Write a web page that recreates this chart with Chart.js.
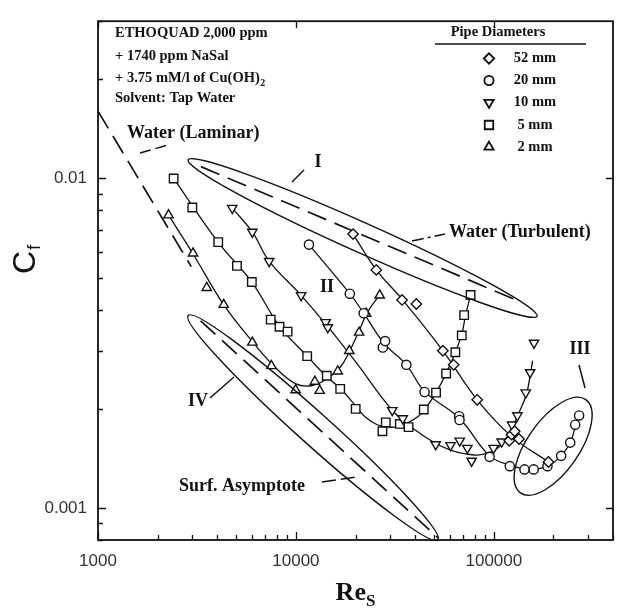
<!DOCTYPE html>
<html>
<head>
<meta charset="utf-8">
<script src="https://cdn.jsdelivr.net/npm/chart.js@4/dist/chart.umd.min.js"></script>
<style>
html,body{margin:0;padding:0;background:#fff;}
canvas{display:block;}
</style>
</head>
<body>
<canvas id="c" width="624" height="608"></canvas>
<script>
// ---------- data ----------
const seriesNames = ['52 mm', '20 mm', '10 mm', '5 mm', '2 mm'];

// 52 mm (diamonds)
const re52 = [19440, 25470, 34370, 40600, 55280, 62660, 82400, 119600, 122800, 127500, 134000, 188700];
const cf52 = [0.00678, 0.00528, 0.00428, 0.00416, 0.00300, 0.00272, 0.00213, 0.00160, 0.00167, 0.00171, 0.00162, 0.00138];
// 20 mm (circles)
const re20 = [11640, 18720, 22000, 27480, 28220, 36140, 44670, 66800, 67100, 95200, 120400, 142900, 159000, 186600, 218800, 243200, 257600, 269600];
const cf20 = [0.00630, 0.00447, 0.00390, 0.00307, 0.00321, 0.00272, 0.00225, 0.00190, 0.00185, 0.00143, 0.00134, 0.00131, 0.00131, 0.00134, 0.00144, 0.00158, 0.00179, 0.00191];
// 10 mm (down triangles)
const re10 = [4767, 6022, 7325, 10620, 14130, 14490, 30670, 34640, 50860, 60400, 67250, 73490, 77200, 99660, 109500, 123500, 131500, 144900, 152500, 159600];
const cf10 = [0.00813, 0.00688, 0.00561, 0.00442, 0.00366, 0.00353, 0.00198, 0.00187, 0.00156, 0.00155, 0.00160, 0.00152, 0.00139, 0.00152, 0.00159, 0.00179, 0.00191, 0.00224, 0.00258, 0.00317];
// 5 mm (squares)
const re5 = [2411, 2997, 4050, 5035, 5987, 7460, 8265, 9077, 11400, 14320, 16740, 20040, 27360, 28440, 33500, 37080, 44260, 51050, 57410, 63900, 68870, 70800, 76300];
const cf5 = [0.01000, 0.00816, 0.00641, 0.00543, 0.00485, 0.00373, 0.00355, 0.00343, 0.00289, 0.00252, 0.00230, 0.00200, 0.00171, 0.00182, 0.00180, 0.00176, 0.00199, 0.00224, 0.00256, 0.00297, 0.00334, 0.00385, 0.00443];
// 2 mm (up triangles)
const re2 = [2272, 3022, 3544, 4317, 6022, 7520, 9965, 12460, 13180, 16270, 18610, 20860, 22640, 26500];
const cf2 = [0.00774, 0.00593, 0.00466, 0.00414, 0.00318, 0.00270, 0.00228, 0.00242, 0.00227, 0.00260, 0.00300, 0.00341, 0.00389, 0.00442];

// drawn fit curves
const fit52Re = [19440, 25470, 34370, 55280, 82400, 122800, 188700];
const fit52Cf = [0.00678, 0.00528, 0.00430, 0.00300, 0.00213, 0.00165, 0.00138];
const fit20Re = [11640, 18720, 22000, 27900, 36140, 44670, 67100, 95200, 120400, 150000, 186600, 218800, 243200, 257600, 269600];
const fit20Cf = [0.00630, 0.00447, 0.00390, 0.00316, 0.00272, 0.00226, 0.00187, 0.00144, 0.00135, 0.00131, 0.00134, 0.00144, 0.00158, 0.00176, 0.00191];
const fit10Re = [4767, 6022, 7325, 10620, 14490, 20000, 30670, 39270, 50860, 60400, 72000, 84300, 101200, 113000, 122800, 131500, 145600, 152500, 157000];
const fit10Cf = [0.00813, 0.00688, 0.00561, 0.00442, 0.00355, 0.00278, 0.00198, 0.00174, 0.00157, 0.00150, 0.00146, 0.00145, 0.00150, 0.00160, 0.00173, 0.00190, 0.00220, 0.00252, 0.00280];
const fit5Re = [2411, 4050, 5987, 8265, 11400, 14320, 16740, 20040, 22200, 25760, 29500, 33100, 37080, 41570, 45000, 51050, 57410, 63900, 68870, 72000, 76300];
const fit5Cf = [0.01000, 0.00640, 0.00485, 0.00356, 0.00289, 0.00250, 0.00231, 0.00204, 0.00190, 0.00179, 0.00176, 0.00177, 0.00182, 0.00190, 0.00200, 0.00224, 0.00256, 0.00297, 0.00337, 0.00385, 0.00443];
const fit2Re = [2272, 3022, 4317, 6022, 7960, 10000, 12000, 14080, 16700, 18610, 20860, 23000, 26660];
const fit2Cf = [0.00774, 0.00590, 0.00414, 0.00320, 0.00265, 0.00238, 0.00235, 0.00245, 0.00267, 0.00298, 0.00345, 0.00393, 0.00446];

// reference lines
const lamRe = [1000, 2960];
const lamCf = [0.0160, 0.0054];
const turbRe = [3313, 132500];
const turbCf = [0.01086, 0.004255];
const asymRe = [3300, 52500];
const asymCf = [0.0037, 0.00081];

// axis tick labels
const xTickLabels = ['1000', '10000', '100000'];
const yTickLabels = ['0.001', '0.01'];

// ---------- helpers ----------
const pts = (xs, ys) => xs.map((v, i) => ({x: v, y: ys[i]}));
const styles = {
  '52 mm': {pointStyle: 'rectRot', radius: 5.2, rotation: 0},
  '20 mm': {pointStyle: 'circle', radius: 4.6, rotation: 0},
  '10 mm': {pointStyle: 'triangle', radius: 5.4, rotation: 180},
  '5 mm':  {pointStyle: 'rect', radius: 6.0, rotation: 0},
  '2 mm':  {pointStyle: 'triangle', radius: 5.4, rotation: 0}
};
const markerData = {'52 mm': [re52, cf52], '20 mm': [re20, cf20], '10 mm': [re10, cf10], '5 mm': [re5, cf5], '2 mm': [re2, cf2]};
const fitData = {'52 mm': [fit52Re, fit52Cf], '20 mm': [fit20Re, fit20Cf], '10 mm': [fit10Re, fit10Cf], '5 mm': [fit5Re, fit5Cf], '2 mm': [fit2Re, fit2Cf]};

const datasets = [];
seriesNames.forEach(n => {
  const s = styles[n];
  datasets.push({
    label: n, data: pts(...markerData[n]), showLine: false, order: 0,
    pointStyle: s.pointStyle, pointRadius: s.radius, pointRotation: s.rotation,
    pointBackgroundColor: '#fff', pointBorderColor: '#111', pointBorderWidth: 1.4,
    pointHoverRadius: s.radius
  });
});
seriesNames.forEach(n => {
  datasets.push({
    label: n + ' fit', data: pts(...fitData[n]), showLine: true, order: 1,
    pointRadius: 0, borderColor: '#111', borderWidth: 1.3, tension: 0.4, fill: false
  });
});
const dashed = (lbl, xs, ys) => ({
  label: lbl, data: pts(xs, ys), showLine: true, order: 2, pointRadius: 0,
  borderColor: '#111', borderWidth: 1.7, borderDash: [20, 9], fill: false, tension: 0
});
datasets.push(dashed('Water (Laminar)', lamRe, lamCf));
datasets.push(dashed('Water (Turbulent)', turbRe, turbCf));
datasets.push(dashed('Surf. Asymptote', asymRe, asymCf));

// ellipses (tips in data coordinates, half-width in px)
const ellipses = [
  {re1: 2853, cf1: 0.01139, re2: 165200, cf2: 0.00382, b: 15},   // I
  {re1: 2854, cf1: 0.00384, re2: 52220, cf2: 0.00080, b: 16},    // IV
  {re1: 136400, cf1: 0.001112, re2: 291300, cf2: 0.002133, b: 26} // III
];

const isPow10 = v => Math.abs(Math.log10(v) - Math.round(Math.log10(v))) < 1e-6;
function tickValues(min, max) {
  const out = [];
  for (let e = Math.floor(Math.log10(min)); e <= Math.ceil(Math.log10(max)); e++) {
    for (let m = 1; m <= 9; m++) {
      const v = +(m * Math.pow(10, e)).toPrecision(6);
      if (v >= min * 0.9999 && v <= max * 1.0001) out.push(v);
    }
  }
  return out;
}

const SERIF = '"Liberation Serif", "DejaVu Serif", serif';
const SANS = '"Liberation Sans", Arial, sans-serif';

const annot = {
  id: 'annot',
  afterDraw(chart) {
    const {ctx, chartArea: a, scales} = chart;
    const xs = scales.x, ys = scales.y;
    ctx.save();
    // frame
    ctx.strokeStyle = '#111';
    ctx.lineWidth = 1.8;
    ctx.strokeRect(a.left, a.top, a.right - a.left, a.bottom - a.top);
    // ticks (inward)
    ctx.lineWidth = 1.3;
    ctx.beginPath();
    xs.ticks.forEach(t => {
      const px = Math.round(xs.getPixelForValue(t.value)) + 0.5;
      const maj = isPow10(t.value);
      ctx.moveTo(px, a.bottom); ctx.lineTo(px, a.bottom - (maj ? 8 : 5));
      if (maj) { ctx.moveTo(px, a.top); ctx.lineTo(px, a.top + 7); }
    });
    ys.ticks.forEach(t => {
      const py = Math.round(ys.getPixelForValue(t.value)) + 0.5;
      const maj = isPow10(t.value);
      ctx.moveTo(a.left, py); ctx.lineTo(a.left + (maj ? 8 : 5), py);
      if (maj) { ctx.moveTo(a.right, py); ctx.lineTo(a.right - 7, py); }
    });
    ctx.stroke();

    // ellipses
    ctx.lineWidth = 1.4;
    ellipses.forEach(e => {
      const x1 = xs.getPixelForValue(e.re1), y1 = ys.getPixelForValue(e.cf1);
      const x2 = xs.getPixelForValue(e.re2), y2 = ys.getPixelForValue(e.cf2);
      const cx = (x1 + x2) / 2, cy = (y1 + y2) / 2;
      const len = Math.hypot(x2 - x1, y2 - y1) / 2, ang = Math.atan2(y2 - y1, x2 - x1);
      ctx.beginPath(); ctx.ellipse(cx, cy, len, e.b, ang, 0, 2 * Math.PI); ctx.stroke();
    });

    // leader lines
    const line = (x1, y1, x2, y2, dash) => {
      ctx.setLineDash(dash || []);
      ctx.beginPath(); ctx.moveTo(x1, y1); ctx.lineTo(x2, y2); ctx.stroke();
      ctx.setLineDash([]);
    };
    ctx.lineWidth = 1.5;
    line(292, 182, 304, 170);        // I
    line(579, 365, 585, 388);        // III
    line(210, 398, 234, 377);        // IV
    line(140, 153, 168, 145, [11, 5]); // laminar
    line(412, 241, 445, 234, [12, 4, 3, 4]); // turbulent
    line(322, 482, 356, 477, [14, 5]); // asymptote

    ctx.fillStyle = '#111';
    ctx.textBaseline = 'middle';
    // condition block
    ctx.font = 'bold 14.5px ' + SERIF;
    ctx.textAlign = 'left';
    ctx.fillText('ETHOQUAD 2,000 ppm', 115, 33);
    ctx.fillText('+ 1740 ppm NaSal', 115, 56);
    const s3 = '+ 3.75 mM/l of Cu(OH)';
    ctx.fillText(s3, 115, 78);
    const w3 = ctx.measureText(s3).width;
    ctx.font = 'bold 10px ' + SERIF;
    ctx.fillText('2', 115 + w3 + 0.5, 83);
    ctx.font = 'bold 14.5px ' + SERIF;
    ctx.fillText('Solvent: Tap Water', 115, 98.5);

    // legend
    ctx.textAlign = 'center';
    ctx.font = 'bold 14.5px ' + SERIF;
    ctx.fillText('Pipe Diameters', 498, 32);
    ctx.lineWidth = 1.5;
    line(435, 44, 586, 44);
    const legY = [58.5, 80.5, 102.5, 125, 147];
    ctx.font = 'bold 14.5px ' + SERIF;
    seriesNames.forEach((n, i) => {
      const s = styles[n];
      ctx.save();
      ctx.fillStyle = '#fff'; ctx.strokeStyle = '#111'; ctx.lineWidth = 1.8;
      Chart.helpers.drawPoint(ctx, {pointStyle: s.pointStyle, radius: s.radius, rotation: s.rotation, borderWidth: 1.8}, 489, legY[i]);
      ctx.restore();
      ctx.fillText(n, 535, legY[i]);
    });

    // region labels
    ctx.font = 'bold 18px ' + SERIF;
    ctx.fillText('I', 318, 162);
    ctx.fillText('II', 327, 287);
    ctx.fillText('III', 580, 349);
    ctx.fillText('IV', 198, 401);
    ctx.textAlign = 'left';
    ctx.fillText('Water (Laminar)', 127, 133);
    ctx.fillText('Water (Turbulent)', 449, 232);
    ctx.fillText('Surf. Asymptote', 179, 486);

    // axis titles
    ctx.textBaseline = 'alphabetic';
    ctx.textAlign = 'left';
    ctx.font = 'bold 26px ' + SERIF;
    const wRe = ctx.measureText('Re').width;
    ctx.font = 'bold 17px ' + SERIF;
    const wS = ctx.measureText('S').width;
    const xStart = (a.left + a.right) / 2 - (wRe + wS) / 2;
    ctx.font = 'bold 26px ' + SERIF;
    ctx.fillText('Re', xStart, 600);
    ctx.font = 'bold 17px ' + SERIF;
    ctx.fillText('S', xStart + wRe, 606);

    ctx.save();
    ctx.translate(35, 274);
    ctx.rotate(-Math.PI / 2);
    ctx.font = '32px ' + SANS;
    ctx.fillText('C', 0, 0);
    const wC = ctx.measureText('C').width;
    ctx.font = '19px ' + SANS;
    ctx.fillText('f', wC + 1, 5);
    ctx.restore();

    ctx.restore();
  }
};

new Chart(document.getElementById('c'), {
  type: 'scatter',
  data: {datasets},
  options: {
    responsive: false,
    devicePixelRatio: 1,
    animation: false,
    events: [],
    layout: {padding: {top: 12, right: 2, left: 0, bottom: 0}},
    plugins: {legend: {display: false}, tooltip: {enabled: false}},
    scales: {
      x: {
        type: 'logarithmic', min: 1000, max: 400000,
        grid: {display: false, drawTicks: false}, border: {display: false},
        afterBuildTicks: s => { s.ticks = tickValues(1000, 400000).map(v => ({value: v})); },
        afterFit: s => { s.height = 68; },
        ticks: {
          autoSkip: false, maxRotation: 0, minRotation: 0, padding: 11, color: '#333',
          font: {family: SANS, size: 17},
          callback: v => { const l = String(Math.round(v)); return isPow10(v) && xTickLabels.includes(l) ? l : ''; }
        }
      },
      y: {
        type: 'logarithmic', min: 0.0008, max: 0.03,
        grid: {display: false, drawTicks: false}, border: {display: false},
        afterBuildTicks: s => { s.ticks = tickValues(0.0008, 0.03).map(v => ({value: v})); },
        afterFit: s => { s.width = 98; },
        ticks: {
          autoSkip: false, padding: 11, color: '#333',
          font: {family: SANS, size: 17},
          callback: v => { if (!isPow10(v)) return ''; const l = String(+v.toPrecision(3)); return yTickLabels.includes(l) ? l : ''; }
        }
      }
    }
  },
  plugins: [annot]
});
</script>
</body>
</html>
